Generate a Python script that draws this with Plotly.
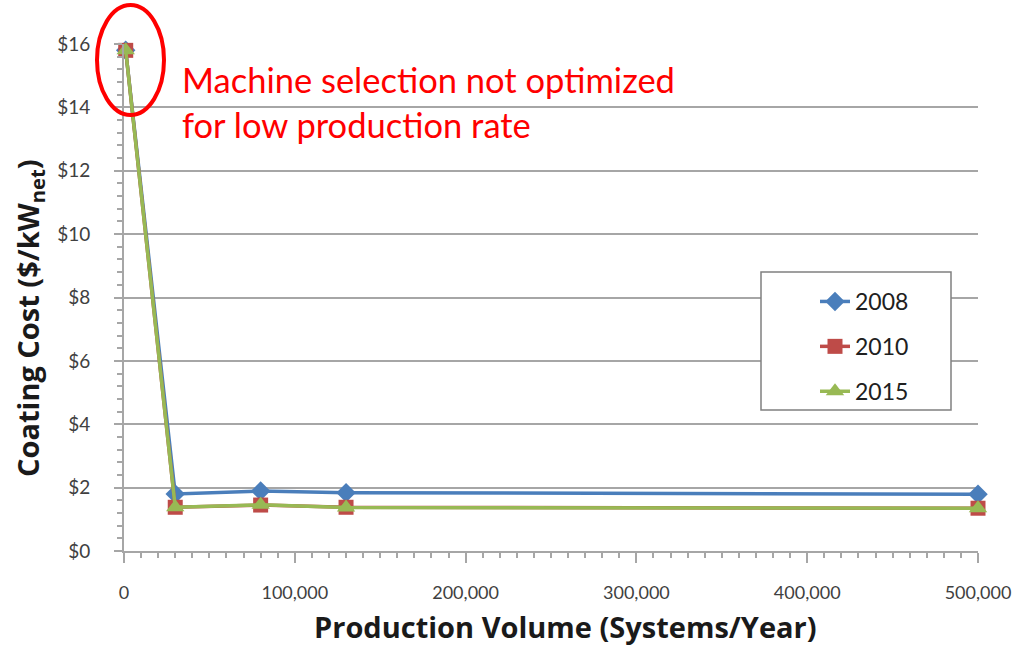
import plotly.graph_objects as go

volume = [1000, 30000, 80000, 130000, 500000]
cost_2008 = [15.8, 1.80, 1.89, 1.84, 1.79]
cost_2010 = [15.8, 1.38, 1.45, 1.38, 1.35]
cost_2015 = [15.8, 1.38, 1.46, 1.37, 1.35]
series_names = ["2008", "2010", "2015"]
x_ticks = [0, 100000, 200000, 300000, 400000, 500000]
x_tick_labels = ["0", "100,000", "200,000", "300,000", "400,000", "500,000"]
y_ticks = [0, 2, 4, 6, 8, 10, 12, 14, 16]
y_tick_labels = ["$0", "$2", "$4", "$6", "$8", "$10", "$12", "$14", "$16"]

FONT = "Lato"
TFONT = "Open Sans"
W, H = 1021, 647
# target plot area in window pixels: x 124..978, y 44..551
L = 124
T = 44
R = W - 978
B = H - 551

fig = go.Figure()
styles = [
    ("#4A7EBB", "diamond", 15),
    ("#BE4B48", "square", 15),
    ("#98B954", "triangle-up", 16),
]
for name, ys, (col, sym, sz) in zip(series_names, [cost_2008, cost_2010, cost_2015], styles):
    fig.add_trace(go.Scatter(
        x=volume, y=ys, name=name, mode="lines+markers",
        legendgroup=name,
        line=dict(color=col, width=3.5),
        marker=dict(color=col, symbol=sym, size=sz),
        cliponaxis=False,
    ))

pw = W - L - R
ph = H - T - B
def px(x):
    return (x - L) / pw
def py(y):
    return (H - B - y) / ph

# legend box
fig.add_shape(type="rect", xref="paper", yref="paper", layer="above",
              x0=px(761), x1=px(951), y0=py(410), y1=py(272),
              line=dict(color="#808080", width=1.5), fillcolor="white")

fig.add_shape(type="circle", xref="paper", yref="paper",
              x0=px(97), x1=px(164), y0=py(115), y1=py(5),
              line=dict(color="#FF0000", width=4))

fig.add_annotation(xref="paper", yref="paper", x=px(180), y=py(57),
                   xanchor="left", yanchor="top", align="left", showarrow=False,
                   text="Machine selection not optimized<br>for low production rate",
                   font=dict(family=FONT, size=34.5, color="#FF0000"))

# axis titles
fig.add_annotation(xref="paper", yref="paper", x=px(565), y=py(626),
                   xanchor="center", yanchor="middle", showarrow=False,
                   text="<b>Production Volume (Systems/Year)</b>",
                   font=dict(family=TFONT, size=29, color="#1A1A1A"))
fig.add_annotation(xref="paper", yref="paper", x=px(29), y=py(318),
                   xanchor="center", yanchor="middle", showarrow=False, textangle=-90,
                   text="<b>Coating Cost ($/kW<sub>net</sub>)</b>",
                   font=dict(family=TFONT, size=29, color="#1A1A1A"))

fig.update_layout(
    width=W, height=H,
    margin=dict(l=L, r=R, t=T, b=B, autoexpand=False),
    paper_bgcolor="white", plot_bgcolor="white",
    font=dict(family=FONT, color="#404040"),
    showlegend=True,
    legend=dict(
        x=px(815), y=py(280), xanchor="left", yanchor="top",
        borderwidth=0, bgcolor="rgba(0,0,0,0)",
        font=dict(family=FONT, size=23, color="#202020"),
        traceorder="grouped", tracegroupgap=12,
    ),
    xaxis=dict(
        range=[0, 500000], tickvals=x_ticks, ticktext=x_tick_labels,
        showgrid=False, zeroline=False, automargin=False,
        showline=True, linecolor="#A6A6A6", linewidth=2,
        ticks="outside", ticklen=10, tickwidth=2, tickcolor="#A6A6A6",
        minor=dict(dtick=10000, ticks="outside", ticklen=5, tickwidth=1.5, tickcolor="#A6A6A6", showgrid=False),
        tickfont=dict(family=FONT, size=18, color="#404040"),
        ticklabelstandoff=14,
    ),
    yaxis=dict(
        range=[0, 16], tickvals=y_ticks, ticktext=y_tick_labels,
        showgrid=True, gridcolor="#A6A6A6", gridwidth=2, zeroline=False, automargin=False,
        showline=True, linecolor="#A6A6A6", linewidth=2,
        ticks="outside", ticklen=8, tickwidth=2, tickcolor="#A6A6A6",
        minor=dict(dtick=0.4, ticks="outside", ticklen=5, tickwidth=1.5, tickcolor="#A6A6A6", showgrid=False),
        tickfont=dict(family=FONT, size=19, color="#404040"),
        ticklabelstandoff=20,
    ),
)

fig.write_html(
    "out.html",
    config={"displayModeBar": False},
    post_script="document.body.style.margin='0';document.body.style.overflow='hidden';",
)
